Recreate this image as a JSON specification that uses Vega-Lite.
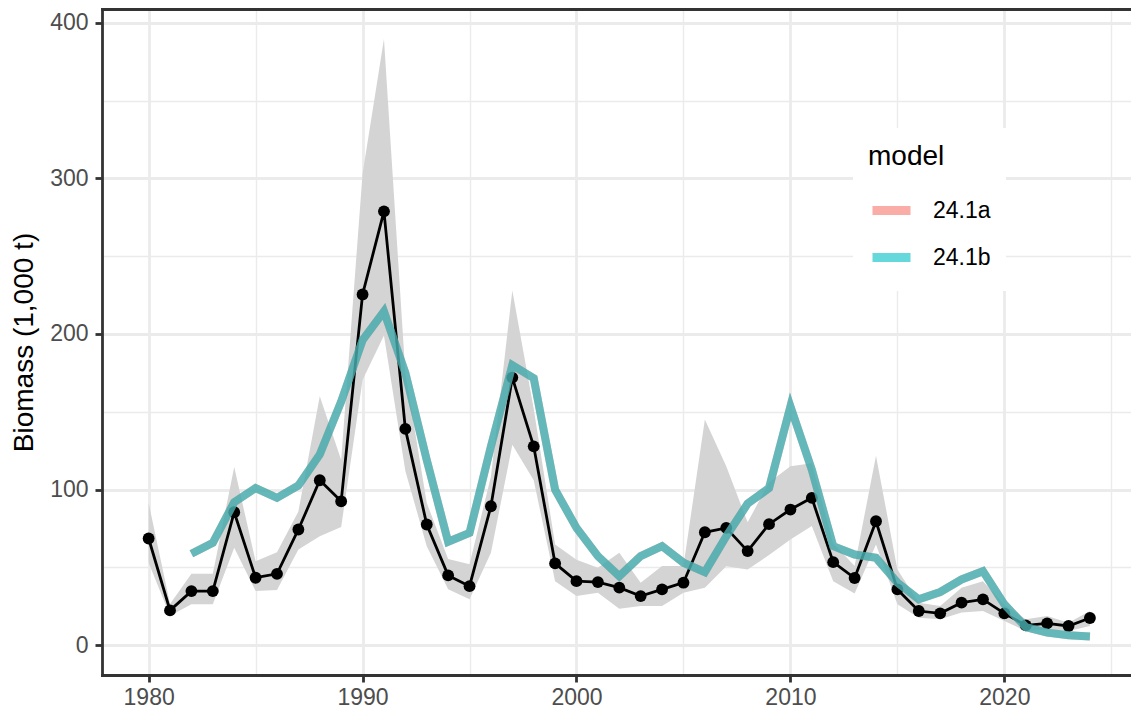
{
  "$schema": "https://vega.github.io/schema/vega-lite/v6.json",
  "width": 1029,
  "height": 666,
  "autosize": {"type": "none"},
  "padding": {"left": 102, "top": 9, "right": 0, "bottom": 40},
  "background": "white",
  "config": {
    "font": "Liberation Sans",
    "view": {"stroke": null},
    "legend": {
      "fillColor": "white",
      "padding": 15,
      "titleFontSize": 28,
      "titleColor": "black",
      "titleFontWeight": "normal",
      "titlePadding": 16,
      "labelFontSize": 23,
      "labelColor": "black",
      "labelOffset": 18,
      "symbolType": "stroke",
      "symbolSize": 1444,
      "symbolStrokeWidth": 9,
      "symbolOpacity": 0.6,
      "rowPadding": 5
    }
  },
  "resolve": {"axis": {"x": "independent"}},
  "datasets": {
    "obs": [
      {"year": 1980, "biomass": 68.6, "lo": 53, "hi": 91.5},
      {"year": 1981, "biomass": 22.4, "lo": 19, "hi": 26.5},
      {"year": 1982, "biomass": 34.8, "lo": 26.3, "hi": 46},
      {"year": 1983, "biomass": 34.8, "lo": 26.3, "hi": 46},
      {"year": 1984, "biomass": 85.5, "lo": 62.6, "hi": 114.5},
      {"year": 1985, "biomass": 43.4, "lo": 34.8, "hi": 54},
      {"year": 1986, "biomass": 45.9, "lo": 35.5, "hi": 59.8},
      {"year": 1987, "biomass": 74.4, "lo": 61.5, "hi": 86},
      {"year": 1988, "biomass": 106, "lo": 70, "hi": 160},
      {"year": 1989, "biomass": 92.5, "lo": 76, "hi": 119},
      {"year": 1990, "biomass": 225.4, "lo": 170.5, "hi": 303},
      {"year": 1991, "biomass": 278.8, "lo": 199, "hi": 389.5},
      {"year": 1992, "biomass": 139, "lo": 112, "hi": 175},
      {"year": 1993, "biomass": 77.6, "lo": 63.7, "hi": 91.5},
      {"year": 1994, "biomass": 44.9, "lo": 36, "hi": 55.5},
      {"year": 1995, "biomass": 38, "lo": 29.5, "hi": 52},
      {"year": 1996, "biomass": 89.3, "lo": 59.4, "hi": 108.5},
      {"year": 1997, "biomass": 172, "lo": 128.8, "hi": 228},
      {"year": 1998, "biomass": 127.8, "lo": 106, "hi": 152},
      {"year": 1999, "biomass": 52.6, "lo": 41.2, "hi": 64.7},
      {"year": 2000, "biomass": 41.2, "lo": 31.6, "hi": 55},
      {"year": 2001, "biomass": 40.6, "lo": 33.8, "hi": 49.8},
      {"year": 2002, "biomass": 37, "lo": 23.5, "hi": 59.4},
      {"year": 2003, "biomass": 31.6, "lo": 25.2, "hi": 40.2},
      {"year": 2004, "biomass": 35.9, "lo": 25.2, "hi": 50.9},
      {"year": 2005, "biomass": 40.2, "lo": 33.8, "hi": 50.9},
      {"year": 2006, "biomass": 72.6, "lo": 37, "hi": 145},
      {"year": 2007, "biomass": 75.4, "lo": 50.8, "hi": 115},
      {"year": 2008, "biomass": 60.5, "lo": 48.7, "hi": 79},
      {"year": 2009, "biomass": 77.8, "lo": 58, "hi": 104.6},
      {"year": 2010, "biomass": 87.2, "lo": 68, "hi": 115},
      {"year": 2011, "biomass": 94.7, "lo": 76.6, "hi": 117},
      {"year": 2012, "biomass": 53.4, "lo": 41.2, "hi": 65.5},
      {"year": 2013, "biomass": 43.2, "lo": 33.3, "hi": 50.9},
      {"year": 2014, "biomass": 79.7, "lo": 64.7, "hi": 121.8},
      {"year": 2015, "biomass": 35.9, "lo": 26.3, "hi": 48.7},
      {"year": 2016, "biomass": 22, "lo": 17.7, "hi": 27.4},
      {"year": 2017, "biomass": 20.5, "lo": 16.7, "hi": 25.2},
      {"year": 2018, "biomass": 27.4, "lo": 21, "hi": 37},
      {"year": 2019, "biomass": 29.5, "lo": 22, "hi": 41.2},
      {"year": 2020, "biomass": 20.5, "lo": 15.6, "hi": 26},
      {"year": 2021, "biomass": 12.8, "lo": 9.2, "hi": 16.7},
      {"year": 2022, "biomass": 14.1, "lo": 10.3, "hi": 18.8},
      {"year": 2023, "biomass": 12.4, "lo": 9.2, "hi": 14.5},
      {"year": 2024, "biomass": 17.5, "lo": 12.4, "hi": 22}
    ],
    "model": [
      {"model": "24.1a", "year": 1982, "biomass": 58.8},
      {"model": "24.1a", "year": 1983, "biomass": 65.8},
      {"model": "24.1a", "year": 1984, "biomass": 91.9},
      {"model": "24.1a", "year": 1985, "biomass": 101},
      {"model": "24.1a", "year": 1986, "biomass": 94.7},
      {"model": "24.1a", "year": 1987, "biomass": 102.6},
      {"model": "24.1a", "year": 1988, "biomass": 122.6},
      {"model": "24.1a", "year": 1989, "biomass": 156.6},
      {"model": "24.1a", "year": 1990, "biomass": 196},
      {"model": "24.1a", "year": 1991, "biomass": 214.5},
      {"model": "24.1a", "year": 1992, "biomass": 175},
      {"model": "24.1a", "year": 1993, "biomass": 119},
      {"model": "24.1a", "year": 1994, "biomass": 66.5},
      {"model": "24.1a", "year": 1995, "biomass": 72.2},
      {"model": "24.1a", "year": 1996, "biomass": 127.8},
      {"model": "24.1a", "year": 1997, "biomass": 180},
      {"model": "24.1a", "year": 1998, "biomass": 171.6},
      {"model": "24.1a", "year": 1999, "biomass": 100},
      {"model": "24.1a", "year": 2000, "biomass": 75.4},
      {"model": "24.1a", "year": 2001, "biomass": 57.3},
      {"model": "24.1a", "year": 2002, "biomass": 44.4},
      {"model": "24.1a", "year": 2003, "biomass": 57.3},
      {"model": "24.1a", "year": 2004, "biomass": 63.7},
      {"model": "24.1a", "year": 2005, "biomass": 53},
      {"model": "24.1a", "year": 2006, "biomass": 47},
      {"model": "24.1a", "year": 2007, "biomass": 70},
      {"model": "24.1a", "year": 2008, "biomass": 91},
      {"model": "24.1a", "year": 2009, "biomass": 101},
      {"model": "24.1a", "year": 2010, "biomass": 153.4},
      {"model": "24.1a", "year": 2011, "biomass": 112.8},
      {"model": "24.1a", "year": 2012, "biomass": 63.7},
      {"model": "24.1a", "year": 2013, "biomass": 58.3},
      {"model": "24.1a", "year": 2014, "biomass": 56.2},
      {"model": "24.1a", "year": 2015, "biomass": 40.2},
      {"model": "24.1a", "year": 2016, "biomass": 29.5},
      {"model": "24.1a", "year": 2017, "biomass": 34.2},
      {"model": "24.1a", "year": 2018, "biomass": 42.3},
      {"model": "24.1a", "year": 2019, "biomass": 47.6},
      {"model": "24.1a", "year": 2020, "biomass": 26.3},
      {"model": "24.1a", "year": 2021, "biomass": 11.7},
      {"model": "24.1a", "year": 2022, "biomass": 8.1},
      {"model": "24.1a", "year": 2023, "biomass": 6.4},
      {"model": "24.1a", "year": 2024, "biomass": 5.6},
      {"model": "24.1b", "year": 1982, "biomass": 58.8},
      {"model": "24.1b", "year": 1983, "biomass": 65.8},
      {"model": "24.1b", "year": 1984, "biomass": 91.9},
      {"model": "24.1b", "year": 1985, "biomass": 101},
      {"model": "24.1b", "year": 1986, "biomass": 94.7},
      {"model": "24.1b", "year": 1987, "biomass": 102.6},
      {"model": "24.1b", "year": 1988, "biomass": 122.6},
      {"model": "24.1b", "year": 1989, "biomass": 156.6},
      {"model": "24.1b", "year": 1990, "biomass": 196},
      {"model": "24.1b", "year": 1991, "biomass": 214.5},
      {"model": "24.1b", "year": 1992, "biomass": 175},
      {"model": "24.1b", "year": 1993, "biomass": 119},
      {"model": "24.1b", "year": 1994, "biomass": 66.5},
      {"model": "24.1b", "year": 1995, "biomass": 72.2},
      {"model": "24.1b", "year": 1996, "biomass": 127.8},
      {"model": "24.1b", "year": 1997, "biomass": 180},
      {"model": "24.1b", "year": 1998, "biomass": 171.6},
      {"model": "24.1b", "year": 1999, "biomass": 100},
      {"model": "24.1b", "year": 2000, "biomass": 75.4},
      {"model": "24.1b", "year": 2001, "biomass": 57.3},
      {"model": "24.1b", "year": 2002, "biomass": 44.4},
      {"model": "24.1b", "year": 2003, "biomass": 57.3},
      {"model": "24.1b", "year": 2004, "biomass": 63.7},
      {"model": "24.1b", "year": 2005, "biomass": 53},
      {"model": "24.1b", "year": 2006, "biomass": 47},
      {"model": "24.1b", "year": 2007, "biomass": 70},
      {"model": "24.1b", "year": 2008, "biomass": 91},
      {"model": "24.1b", "year": 2009, "biomass": 101},
      {"model": "24.1b", "year": 2010, "biomass": 153.4},
      {"model": "24.1b", "year": 2011, "biomass": 112.8},
      {"model": "24.1b", "year": 2012, "biomass": 63.7},
      {"model": "24.1b", "year": 2013, "biomass": 58.3},
      {"model": "24.1b", "year": 2014, "biomass": 56.2},
      {"model": "24.1b", "year": 2015, "biomass": 40.2},
      {"model": "24.1b", "year": 2016, "biomass": 29.5},
      {"model": "24.1b", "year": 2017, "biomass": 34.2},
      {"model": "24.1b", "year": 2018, "biomass": 42.3},
      {"model": "24.1b", "year": 2019, "biomass": 47.6},
      {"model": "24.1b", "year": 2020, "biomass": 26.3},
      {"model": "24.1b", "year": 2021, "biomass": 11.7},
      {"model": "24.1b", "year": 2022, "biomass": 8.1},
      {"model": "24.1b", "year": 2023, "biomass": 6.4},
      {"model": "24.1b", "year": 2024, "biomass": 5.6}
    ]
  },
  "layer": [
    {
      "data": {"name": "obs"},
      "mark": {"type": "area", "color": "#D4D4D4", "opacity": 1},
      "encoding": {
        "x": {
          "field": "year",
          "type": "quantitative",
          "scale": {"domain": [1977.82, 2025.92], "nice": false, "zero": false},
          "axis": {
            "title": null,
            "values": [1980, 1985, 1990, 1995, 2000, 2005, 2010, 2015, 2020, 2025],
            "format": "d",
            "labelExpr": "datum.value % 10 == 0 ? datum.label : ''",
            "domain": true,
            "domainColor": "#333333",
            "domainWidth": 2.8,
            "domainCap": "square",
            "tickColor": "#333333",
            "tickWidth": 2.8,
            "tickSize": 7,
            "tickOpacity": {"condition": {"test": "datum.value % 10 != 0", "value": 0}, "value": 1},
            "grid": true,
            "gridColor": "#EBEBEB",
            "gridWidth": {"condition": {"test": "datum.value % 10 != 0", "value": 1.4}, "value": 2.8},
            "labelFontSize": 23,
            "labelColor": "#4D4D4D",
            "labelPadding": 4,
            "labelFlush": false,
            "labelOverlap": false
          }
        },
        "y": {
          "field": "lo",
          "type": "quantitative",
          "scale": {"domain": [-19.1, 408.8], "nice": false, "zero": false},
          "axis": {
            "title": "Biomass (1,000 t)",
            "titleFontSize": 28,
            "titleFontWeight": "normal",
            "titleColor": "black",
            "titlePadding": 11,
            "values": [0, 50, 100, 150, 200, 250, 300, 350, 400],
            "labelExpr": "datum.value % 100 == 0 ? datum.label : ''",
            "domain": true,
            "domainColor": "#333333",
            "domainWidth": 2.8,
            "domainCap": "square",
            "tickColor": "#333333",
            "tickWidth": 2.8,
            "tickSize": 7,
            "tickOpacity": {"condition": {"test": "datum.value % 100 != 0", "value": 0}, "value": 1},
            "grid": true,
            "gridColor": "#EBEBEB",
            "gridWidth": {"condition": {"test": "datum.value % 100 != 0", "value": 1.4}, "value": 2.8},
            "labelFontSize": 23,
            "labelColor": "#4D4D4D",
            "labelPadding": 7,
            "labelFlush": false,
            "labelOverlap": false
          }
        },
        "y2": {"field": "hi"}
      }
    },
    {
      "data": {"name": "obs"},
      "mark": {"type": "line", "color": "black", "strokeWidth": 2.8},
      "encoding": {
        "x": {"field": "year", "type": "quantitative", "axis": null},
        "y": {"field": "biomass", "type": "quantitative"}
      }
    },
    {
      "data": {"name": "obs"},
      "mark": {"type": "point", "filled": true, "color": "black", "size": 140, "opacity": 1},
      "encoding": {
        "x": {"field": "year", "type": "quantitative", "axis": null},
        "y": {"field": "biomass", "type": "quantitative"}
      }
    },
    {
      "data": {"name": "model"},
      "mark": {"type": "line", "strokeWidth": 8, "opacity": 0.6},
      "encoding": {
        "x": {
          "field": "year",
          "type": "quantitative",
          "axis": {"orient": "top", "title": null, "labels": false, "ticks": false, "grid": false, "domain": true, "domainColor": "#333333", "domainWidth": 2.8, "domainCap": "square"}
        },
        "y": {"field": "biomass", "type": "quantitative"},
        "color": {
          "field": "model",
          "type": "nominal",
          "scale": {"domain": ["24.1a", "24.1b"], "range": ["#F8766D", "#00BFC4"]},
          "legend": {"title": "model", "orient": "none", "legendX": 751, "legendY": 119}
        }
      }
    }
  ]
}
